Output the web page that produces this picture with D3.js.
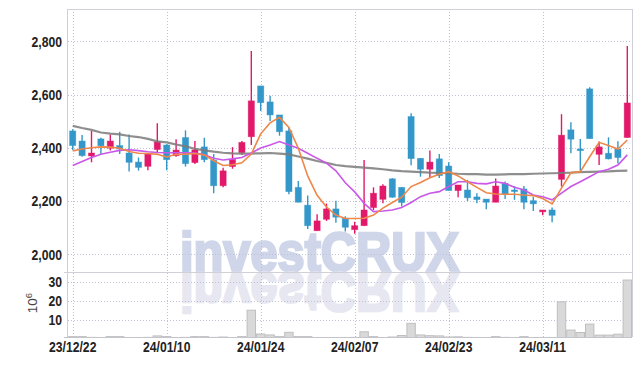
<!DOCTYPE html>
<html>
<head>
<meta charset="utf-8">
<script src="https://cdn.jsdelivr.net/npm/d3@7"></script>
<style>
  body { margin: 0; background: #fff; }
  svg text { font-family: "Liberation Sans", Arial, sans-serif; }
</style>
</head>
<body>
<div id="chartContainer"></div>
<script>
// trading days (one candle each)
var dates = ["23/12/22","23/12/26","23/12/27","23/12/28","24/01/02","24/01/03","24/01/04","24/01/05","24/01/08","24/01/09",
  "24/01/10","24/01/11","24/01/12","24/01/15","24/01/16","24/01/17","24/01/18","24/01/19","24/01/22","24/01/23",
  "24/01/24","24/01/25","24/01/26","24/01/29","24/01/30","24/01/31","24/02/01","24/02/02","24/02/05","24/02/06",
  "24/02/07","24/02/08","24/02/13","24/02/14","24/02/15","24/02/16","24/02/19","24/02/20","24/02/21","24/02/22",
  "24/02/23","24/02/26","24/02/27","24/02/28","24/02/29","24/03/04","24/03/05","24/03/06","24/03/07","24/03/08",
  "24/03/11","24/03/12","24/03/13","24/03/14","24/03/15","24/03/18","24/03/19","24/03/20","24/03/21","24/03/22"];

var openP  = [2464,2426,2370,2434,2399,2409,2381,2347,2331,2394, 2411,2371,2439,2345,2404,2354,2258,2330,2382,2442,
  2633,2573,2524,2464,2252,2185,2089,2132,2171,2136, 2093,2108,2176,2207,2284,2252,2518,2361,2320,2359,
  2332,2240,2242,2216,2208,2196,2267,2242,2246,2202, 2160,2167,2282,2468,2396,2622,2376,2380,2396,2439];
var highP  = [2470,2449,2464,2438,2451,2461,2451,2364,2381,2493, 2414,2433,2466,2426,2438,2377,2326,2403,2426,2764,
  2633,2596,2524,2476,2276,2221,2151,2191,2202,2143, 2123,2355,2252,2264,2286,2252,2530,2361,2390,2377,
  2346,2261,2280,2230,2208,2285,2274,2257,2257,2217, 2167,2176,2527,2497,2434,2628,2424,2440,2425,2783];
var lowP   = [2392,2367,2346,2376,2390,2377,2312,2315,2316,2380, 2316,2367,2330,2340,2346,2230,2252,2322,2374,2411,
  2539,2501,2446,2226,2196,2096,2089,2126,2119,2086, 2078,2108,2167,2192,2213,2180,2335,2292,2290,2287,
  2240,2215,2201,2192,2170,2196,2208,2205,2170,2163, 2147,2121,2255,2380,2309,2435,2336,2357,2342,2439];
var closeP = [2409,2371,2381,2408,2426,2396,2346,2327,2377,2423, 2356,2392,2341,2393,2356,2258,2314,2357,2421,2577,
  2570,2524,2461,2236,2196,2108,2126,2171,2140,2102, 2108,2167,2230,2257,2215,2195,2360,2320,2347,2296,
  2240,2261,2213,2206,2196,2257,2226,2237,2196,2190, 2167,2147,2448,2433,2390,2435,2404,2359,2364,2569];
// volume, millions of shares
var volume = [1.0,1.0,0.6,0.4,1.0,1.0,0.5,0.4,0.6,1.4, 1.0,0.5,0.6,1.0,1.0,0.6,0.8,0.5,1.0,15.1,
  2.4,1.9,1.0,3.3,1.0,1.0,0.4,0.5,0.4,0.3, 0.6,3.6,1.0,0.4,0.8,1.6,8.1,1.9,1.5,1.4,
  0.8,0.9,0.6,0.4,0.5,1.0,0.6,0.4,1.0,0.5, 0.5,0.4,19.6,4.5,3.2,7.7,1.8,1.8,2.3,31.2];

// moving averages
var ma5  = [2389,2396,2401,2404,2403,2399,2387,2380,2379,2376, 2366,2376,2377,2379,2374,2352,2334,2337,2344,2377,
  2453,2494,2515,2477,2399,2295,2222,2178,2148,2135, 2135,2136,2148,2174,2195,2215,2255,2270,2288,2301,
  2311,2295,2273,2252,2232,2227,2226,2226,2223,2221, 2210,2190,2249,2307,2311,2367,2421,2409,2396,2430];
var ma20 = [2334,2349,2364,2376,2384,2391,2393,2390,2386,2383, 2382,2382,2382,2381,2374,2361,2355,2359,2364,2381,
  2400,2411,2424,2411,2399,2380,2361,2343,2314,2269, 2235,2192,2161,2163,2167,2176,2195,2217,2230,2236,
  2255,2273,2273,2267,2265,2273,2267,2252,2242,2223, 2217,2205,2230,2255,2273,2292,2311,2320,2336,2374];
var ma60 = [2483,2475,2468,2458,2454,2451,2445,2441,2434,2425, 2421,2413,2406,2397,2391,2386,2382,2380,2379,2379,
  2380,2381,2379,2376,2368,2360,2351,2344,2336,2332, 2329,2326,2323,2320,2316,2313,2311,2309,2307,2306,
  2305,2303,2302,2302,2300,2300,2301,2302,2302,2303, 2304,2305,2306,2307,2309,2310,2311,2312,2314,2315];

var priceTicks = [2000, 2200, 2400, 2600, 2800];
var volTicks = [10, 20, 30];
var labelEvery = 10;

var W = 642, H = 366;
var plotLeft = 68, plotRight = 632, plotTop = 9, plotSplit = 272, plotBottom = 337;

var svg = d3.select("#chartContainer").append("svg")
  .attr("width", W).attr("height", H)
  .style("display", "block");

var idx = d3.range(dates.length);
var x = d3.scaleBand().domain(idx).range([plotLeft, plotRight]).padding(0);
var bw = x.bandwidth();
var cx = function(i) { return x(i) + bw / 2; };

var y = d3.scaleLinear().domain([1934, 2922]).range([plotSplit, plotTop]);
var yv = d3.scaleLinear().domain([0, 35.5]).range([338.5, plotSplit]);

var gridColor = "#bfc2d6";

svg.append("clipPath").attr("id", "volClip")
  .append("rect").attr("x", plotLeft).attr("y", plotSplit)
  .attr("width", plotRight - plotLeft).attr("height", plotBottom - plotSplit);

// watermark + its reflection
var wm = svg.append("g").attr("class", "watermark");
wm.append("text")
  .attr("x", 180).attr("y", plotSplit - 1)
  .attr("textLength", 279).attr("lengthAdjust", "spacingAndGlyphs")
  .attr("font-size", 55).attr("font-weight", "bold")
  .attr("fill", "#d0d6e9").attr("stroke", "#d0d6e9").attr("stroke-width", 2.6)
  .attr("stroke-linejoin", "miter")
  .text("investCRUX");
wm.append("text")
  .attr("x", 180).attr("y", -plotSplit - 1)
  .attr("transform", "scale(1,-1)")
  .attr("textLength", 279).attr("lengthAdjust", "spacingAndGlyphs")
  .attr("font-size", 55).attr("font-weight", "bold")
  .attr("fill", "#e6e7f0").attr("stroke", "#e6e7f0").attr("stroke-width", 2.6)
  .text("investCRUX");

// grid lines
var labelIdx = idx.filter(function(i) { return i % labelEvery === 0; });
svg.append("g").selectAll("line").data(labelIdx).enter().append("line")
  .attr("x1", function(i) { return Math.round(cx(i)) + 0.5; })
  .attr("x2", function(i) { return Math.round(cx(i)) + 0.5; })
  .attr("y1", plotTop).attr("y2", plotBottom)
  .attr("stroke", gridColor).attr("stroke-dasharray", "1,2");
svg.append("g").selectAll("line").data(priceTicks).enter().append("line")
  .attr("x1", plotLeft).attr("x2", plotRight)
  .attr("y1", function(d) { return Math.round(y(d)) + 0.5; })
  .attr("y2", function(d) { return Math.round(y(d)) + 0.5; })
  .attr("stroke", gridColor).attr("stroke-dasharray", "1,2");
svg.append("g").selectAll("line").data(volTicks).enter().append("line")
  .attr("x1", plotLeft).attr("x2", plotRight)
  .attr("y1", function(d) { return Math.round(yv(d)) + 0.5; })
  .attr("y2", function(d) { return Math.round(yv(d)) + 0.5; })
  .attr("stroke", gridColor).attr("stroke-dasharray", "1,2");

// volume bars
svg.append("g").attr("clip-path", "url(#volClip)")
  .selectAll("rect").data(idx).enter().append("rect")
  .attr("x", function(i) { return x(i) + 0.5; })
  .attr("width", bw - 1)
  .attr("y", function(i) { return yv(volume[i]); })
  .attr("height", function(i) { return yv(0) - yv(volume[i]); })
  .attr("fill", "#d9d9d9").attr("stroke", "#bfbfbf").attr("stroke-width", 1);

// candles (red = up, blue = down)
var upCol = "#e2196a", downCol = "#3397c9";
var colr = function(i) { return closeP[i] >= openP[i] ? upCol : downCol; };
var candles = svg.append("g").selectAll("g").data(idx).enter().append("g");
candles.append("line")
  .attr("x1", cx).attr("x2", cx)
  .attr("y1", function(i) { return y(highP[i]); })
  .attr("y2", function(i) { return y(lowP[i]); })
  .attr("stroke", colr).attr("stroke-width", 1.4);
var bodyW = bw * 0.66;
candles.append("rect")
  .attr("x", function(i) { return cx(i) - bodyW / 2; })
  .attr("width", bodyW)
  .attr("y", function(i) { return y(Math.max(openP[i], closeP[i])); })
  .attr("height", function(i) { return Math.max(1.5, Math.abs(y(openP[i]) - y(closeP[i]))); })
  .attr("fill", colr).attr("stroke", colr).attr("stroke-opacity", 0.5).attr("stroke-width", 0.8);

// moving averages
function maLine(arr) {
  return d3.line().x(cx).y(function(i) { return y(arr[i]); })(idx);
}
svg.append("path").attr("d", maLine(ma60)).attr("fill", "none")
  .attr("stroke", "#7a7a7a").attr("stroke-opacity", 0.85).attr("stroke-width", 2.2);
svg.append("path").attr("d", maLine(ma20)).attr("fill", "none")
  .attr("stroke", "#c957e8").attr("stroke-width", 1.6);
svg.append("path").attr("d", maLine(ma5)).attr("fill", "none")
  .attr("stroke", "#ee8748").attr("stroke-width", 1.6);

// frame
var frameCol = "#cfd0d8";
svg.append("line").attr("x1", plotLeft - 0.5).attr("x2", plotLeft - 0.5).attr("y1", plotTop).attr("y2", plotBottom).attr("stroke", frameCol);
svg.append("line").attr("x1", plotRight + 0.5).attr("x2", plotRight + 0.5).attr("y1", plotTop).attr("y2", plotBottom).attr("stroke", frameCol);
svg.append("line").attr("x1", plotLeft).attr("x2", plotRight).attr("y1", plotTop + 0.5).attr("y2", plotTop + 0.5).attr("stroke", frameCol);
svg.append("line").attr("x1", plotLeft - 4).attr("x2", plotRight).attr("y1", plotSplit + 0.5).attr("y2", plotSplit + 0.5).attr("stroke", frameCol);
svg.append("line").attr("x1", plotLeft - 4).attr("x2", plotRight).attr("y1", plotBottom + 0.5).attr("y2", plotBottom + 0.5).attr("stroke", "#c4c4cc");

// axes; labels squeezed to look like a narrow face
function styleAxis(g) {
  g.select(".domain").remove();
  g.selectAll("text").attr("font-size", 14.5).attr("font-weight", "bold").attr("fill", "#222")
    .each(function() {
      var len = this.getComputedTextLength();
      d3.select(this).attr("textLength", len * 0.84).attr("lengthAdjust", "spacingAndGlyphs");
    });
}
svg.append("g").attr("transform", "translate(" + plotLeft + ",0)")
  .call(d3.axisLeft(y).tickValues(priceTicks).tickFormat(d3.format(",")).tickSize(0).tickPadding(6))
  .call(styleAxis);
svg.append("g").attr("transform", "translate(" + plotLeft + ",0)")
  .call(d3.axisLeft(yv).tickValues(volTicks).tickSize(0).tickPadding(6))
  .call(styleAxis);
svg.append("g").attr("transform", "translate(0," + plotBottom + ")")
  .call(d3.axisBottom(x).tickValues(labelIdx).tickFormat(function(i) { return dates[i]; }).tickSize(0).tickPadding(5))
  .call(styleAxis);

// unit label
var unit = svg.append("text")
  .attr("transform", "translate(37,303) rotate(-90)")
  .attr("text-anchor", "middle")
  .attr("font-size", 13.5).attr("fill", "#444");
unit.append("tspan").text("10");
unit.append("tspan").attr("baseline-shift", "super").attr("font-size", 9.5).text("6");
</script>
</body>
</html>
